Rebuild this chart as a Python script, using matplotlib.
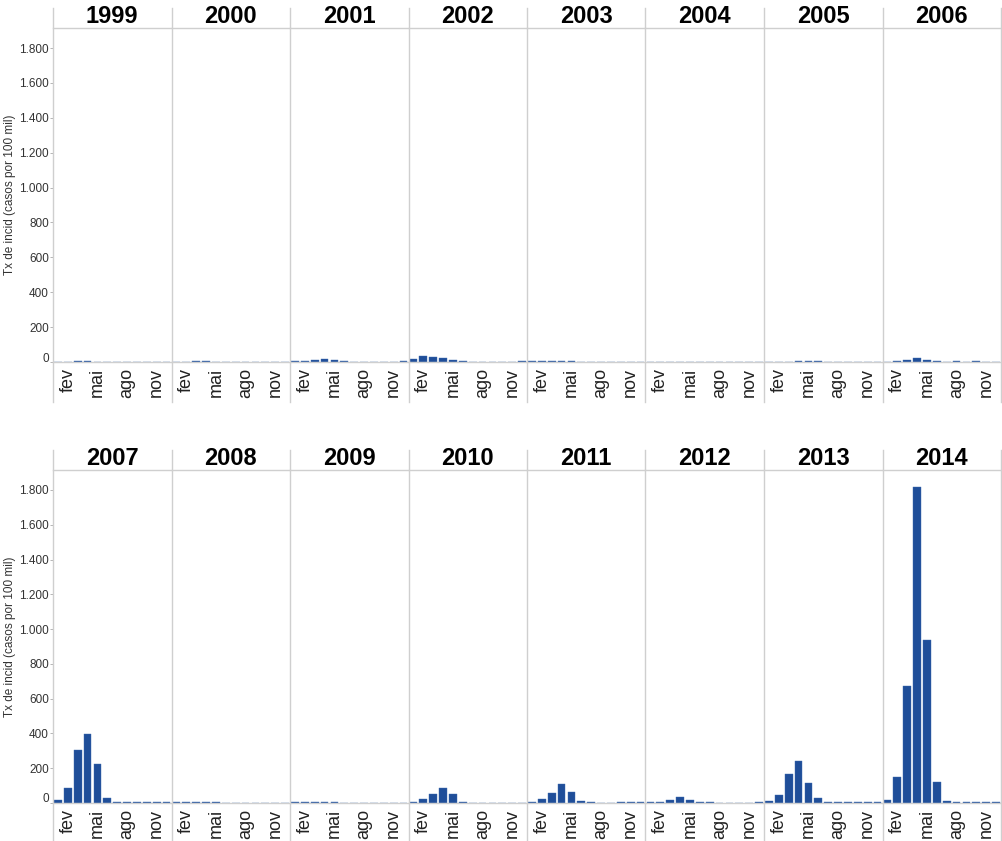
import numpy as np
import matplotlib
matplotlib.use("Agg")
import matplotlib.pyplot as plt
from matplotlib.lines import Line2D
from matplotlib.transforms import ScaledTranslation

plt.rcParams['font.family'] = ['Liberation Sans', 'DejaVu Sans']

meses = np.arange(1, 13)
rotulos_mes = ['fev', 'mai', 'ago', 'nov']
pos_mes = [2, 5, 8, 11]

# taxa de incidencia mensal por ano
v1999 = [0, 0, 4, 6, 0, 0, 0, 0, 0, 0, 0, 0]
v2000 = [0, 0, 4, 4, 0, 0, 0, 0, 0, 0, 0, 0]
v2001 = [4, 5, 12, 17, 10, 4, 0, 0, 0, 0, 0, 5]
v2002 = [17, 32, 29, 21, 13, 4, 0, 0, 0, 0, 0, 3]
v2003 = [4, 5, 6, 5, 3, 0, 0, 0, 0, 0, 0, 0]
v2004 = [0, 0, 0, 0, 0, 0, 0, 0, 0, 0, 0, 0]
v2005 = [0, 0, 0, 4, 4, 3, 0, 0, 0, 0, 0, 0]
v2006 = [0, 5, 13, 25, 10, 4, 0, 4, 0, 4, 0, 0]
v2007 = [19, 86, 307, 399, 224, 27, 5, 5, 5, 5, 5, 5]
v2008 = [4, 4, 4, 7, 4, 0, 0, 0, 0, 0, 0, 0]
v2009 = [3, 4, 4, 4, 3, 0, 0, 0, 0, 0, 0, 0]
v2010 = [4, 23, 54, 86, 54, 8, 0, 0, 0, 0, 0, 0]
v2011 = [5, 25, 57, 111, 65, 10, 4, 0, 0, 4, 4, 4]
v2012 = [4, 4, 15, 33, 20, 6, 4, 0, 0, 0, 0, 4]
v2013 = [13, 44, 167, 243, 117, 27, 4, 4, 4, 4, 4, 4]
v2014 = [19, 148, 675, 1820, 940, 119, 13, 5, 5, 5, 5, 5]

anos = list(range(1999, 2015))
valores = [v1999, v2000, v2001, v2002, v2003, v2004, v2005, v2006,
           v2007, v2008, v2009, v2010, v2011, v2012, v2013, v2014]

W, H = 1003, 841
fig = plt.figure(figsize=(W/100, H/100), dpi=100)

cinza = '#cfcfcf'
azul = '#1f4e99'
x0 = 53
larg = (1001 - x0) / 8.0
# (topo do cabecalho, linha do cabecalho, linha de base, fim das linhas)
linhas = [(8, 28, 362, 402), (450, 470, 803, 841)]

for k, (ano, v) in enumerate(zip(anos, valores)):
    lin = k // 8
    col = k % 8
    t0, t1, base, fim = linhas[lin]
    esq = x0 + col*larg
    ax = fig.add_axes([esq/W, 1 - base/H, larg/W, (base - t1)/H])
    ax.bar(meses, v, width=0.78, color=azul, edgecolor='#3d6ab0', linewidth=0.3)
    ax.set_xlim(0.5, 12.5)
    ax.set_ylim(0, 1915)
    ax.set_xticks(pos_mes)
    ax.set_xticklabels(rotulos_mes, rotation=90, fontsize=13, color='#222222')
    ax.tick_params(axis='x', length=0, pad=4)
    ax.set_yticks(np.arange(0, 1801, 200))
    for s in ['left', 'right']:
        ax.spines[s].set_visible(False)
    ax.spines['top'].set_color(cinza)
    ax.spines['bottom'].set_color(cinza)
    ax.spines['top'].set_linewidth(1.0)
    ax.spines['bottom'].set_linewidth(1.0)
    ax.set_title(str(ano), fontsize=17, fontweight='bold', pad=1)
    if col == 0:
        rot = ['{:,}'.format(t).replace(',', '.') for t in range(0, 1801, 200)]
        ax.set_yticklabels(rot, fontsize=8.5, color='#333333')
        ax.tick_params(axis='y', length=2, width=0.6, color='#aaaaaa', pad=1)
        lab0 = ax.get_yticklabels()[0]
        lab0.set_transform(lab0.get_transform() + ScaledTranslation(0, 5/100, fig.dpi_scale_trans))
        fig.text(10/W, 1 - (t1 + base)/2/H, 'Tx de incid (casos por 100 mil)', rotation=90,
                 ha='center', va='center', fontsize=8.5, color='#333333')
    else:
        ax.set_yticklabels([])
        ax.tick_params(axis='y', length=0)
    # linhas verticais separando os paineis
    fig.add_artist(Line2D([esq/W, esq/W], [1 - t0/H, 1 - fim/H], color=cinza, lw=1.0))
    if col == 7:
        xd = (esq + larg)/W
        fig.add_artist(Line2D([xd, xd], [1 - t0/H, 1 - fim/H], color=cinza, lw=1.0))

fig.savefig('out.png', dpi=100)
